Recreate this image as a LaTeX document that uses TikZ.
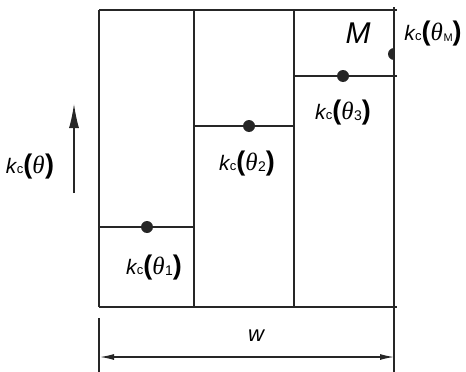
\documentclass[tikz,border=0pt]{standalone}
\usepackage{fontspec}
\setmainfont{Liberation Sans}
\newfontfamily\thfont{Liberation Serif}
\usetikzlibrary{arrows.meta}
\newcommand{\kc}[1]{\textit{k}\kern-0.5pt{\fontsize{13}{13}\selectfont c}%
{\fontsize{27}{27}\selectfont\bfseries(}%
{\fontsize{25}{25}\selectfont\thfont\itshape θ}\kern0.5pt%
\raisebox{-0.5pt}{\fontsize{14}{14}\selectfont #1}%
{\fontsize{27}{27}\selectfont\bfseries)}}
\tikzset{
  thin line/.style={line width=1.2pt, draw=black!85},
  step line/.style={line width=2.2pt, draw=black!85},
  dot/.style={circle, fill=black!85, inner sep=0pt, minimum size=12pt},
  lbl/.style={font=\fontsize{21}{21}\selectfont, inner sep=1pt},
  dimarrow/.style={thin line, {Latex[length=14pt,width=6pt]}-{Latex[length=14pt,width=6pt]}}
}
\begin{document}
\begin{tikzpicture}[x=1pt,y=-1pt]
\useasboundingbox (0,0) rectangle (466,372);
% frame
\coordinate (TL) at (99,10);
\coordinate (TR) at (394,10);
\coordinate (BL) at (99,307);
\coordinate (BR) at (394,307);
\coordinate (V1t) at (194,10);
\coordinate (V1b) at (194,307);
\coordinate (V2t) at (294,10);
\coordinate (V2b) at (294,307);
\draw[thin line] (TL) -- (397,10);
\draw[thin line] (BL) -- (397,307);
\draw[thin line] (TL) -- (BL);
\draw[thin line] (394,7) -- (394,372);
\draw[thin line] (V1t) -- (V1b);
\draw[thin line] (V2t) -- (V2b);
% steps
\coordinate (S1a) at (99,227);
\coordinate (S1b) at (194,227);
\coordinate (S2a) at (194,126);
\coordinate (S2b) at (294,126);
\coordinate (S3a) at (294,76);
\coordinate (S3b) at (397,76);
\draw[step line] (S1a) -- (S1b) -- (S2a) -- (S2b);
\draw[line width=1.8pt, draw=black!85] (S3a) -- (S3b);
% dots
\node[dot] (d1) at (147,227) {};
\node[dot] (d2) at (249,126) {};
\node[dot] (d3) at (343,76) {};
\begin{scope}
\clip (380,30) rectangle (394,80);
\node[dot] (dM) at (394,54) {};
\end{scope}
% labels
\node[lbl] (l1) at (154,268) {\kc{1}};
\node[lbl] (l2) at (247,164) {\kc{2}};
\node[lbl] (l3) at (343,113) {\kc{3}};
\node[lbl] (lM) at (433,34) {\kc{\fontsize{11}{11}\selectfont M}};
\node[font=\fontsize{30}{30}\selectfont\itshape, inner sep=0pt] (M) at (358,33) {M};
\node[lbl] (lk) at (30,167) {\kc{}};
% vertical arrow
\coordinate (ab) at (74,193);
\coordinate (at) at (74,104);
\draw[thin line, -{Latex[length=24pt,width=10pt]}] (ab) -- (at);
% dimension
\coordinate (DL) at (99,318);
\coordinate (DLb) at (99,372);
\draw[thin line] (DL) -- (DLb);
\coordinate (AL) at (100,357);
\coordinate (AR) at (394,357);
\draw[dimarrow] (AL) -- (AR);
\node[font=\fontsize{22}{22}\selectfont\itshape] (w) at (256,336) {w};
\end{tikzpicture}
\end{document}
